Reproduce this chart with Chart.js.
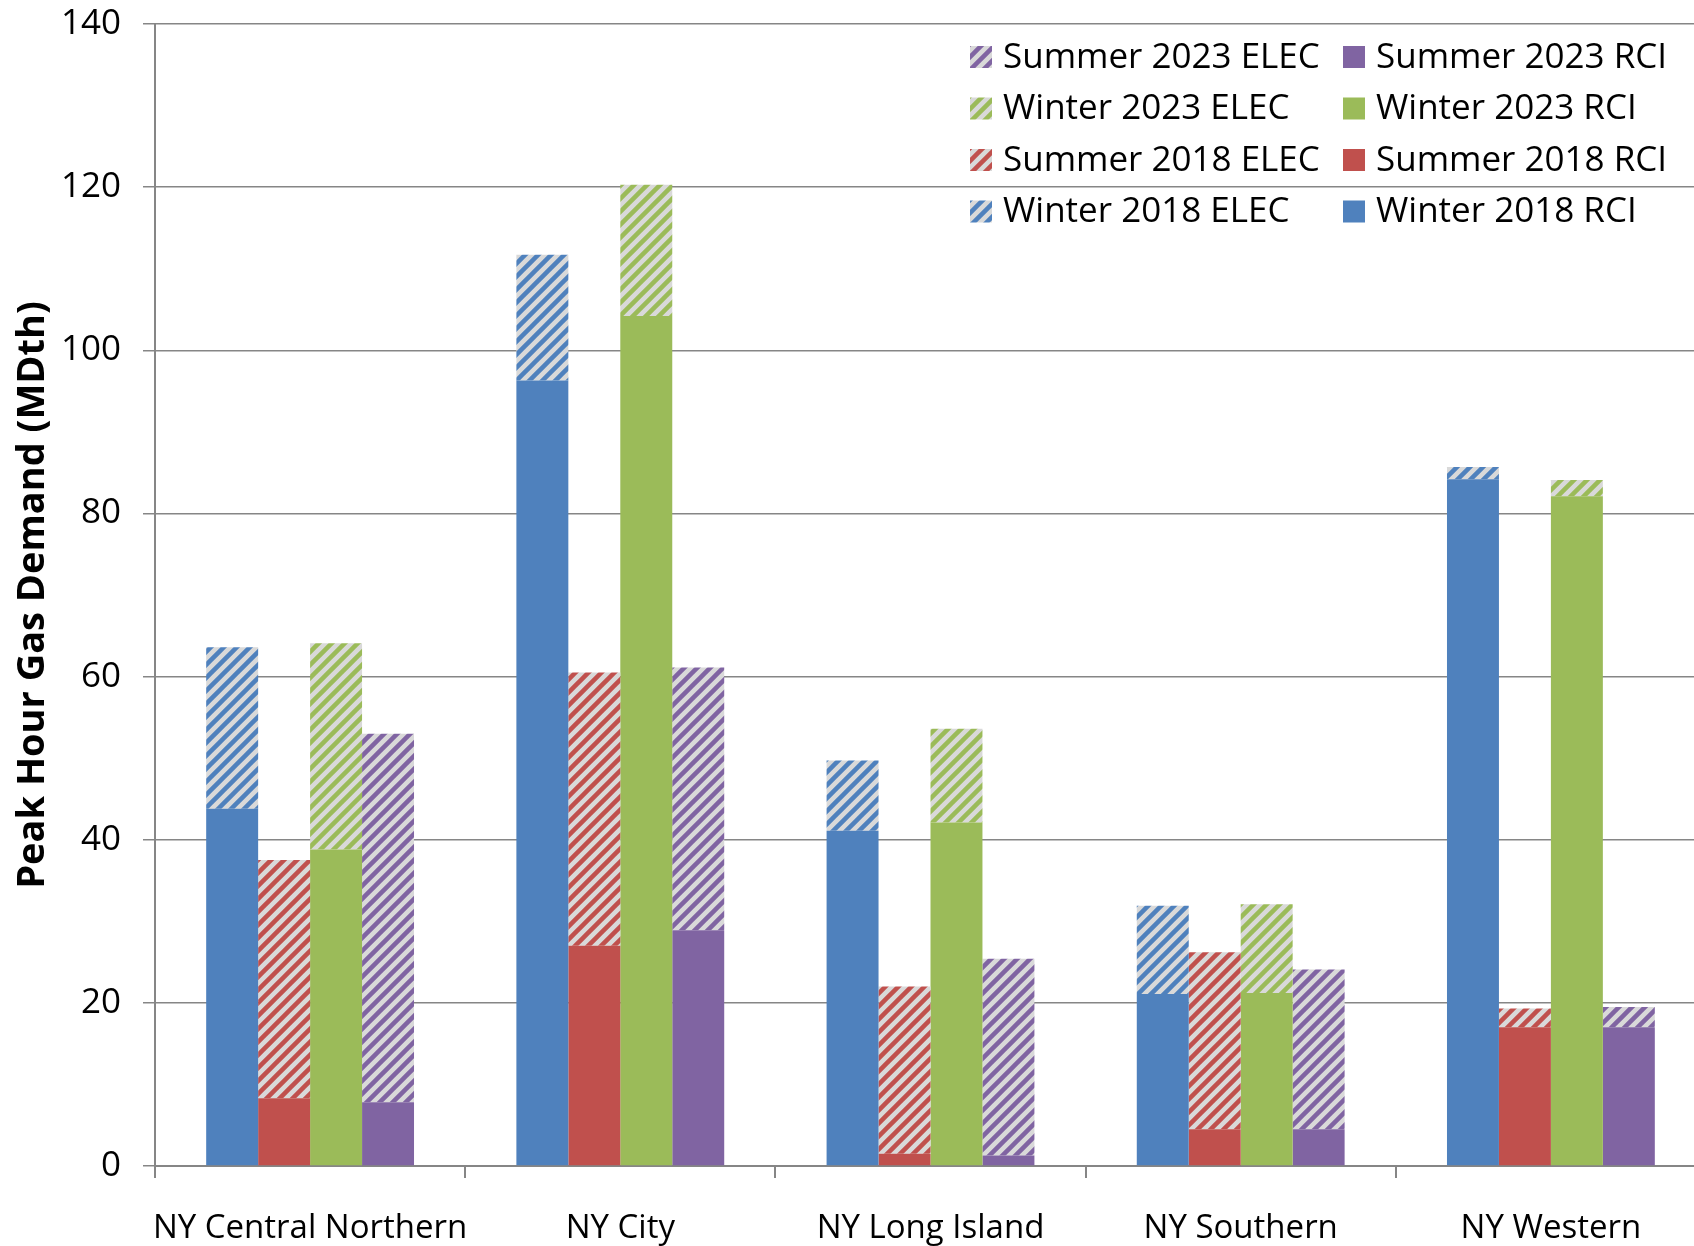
<!DOCTYPE html>
<html>
<head>
<meta charset="utf-8">
<title>Peak Hour Gas Demand</title>
<script src="https://cdn.jsdelivr.net/npm/chart.js@4/dist/chart.umd.min.js"></script>
<style>
  html, body { margin: 0; padding: 0; background: #fff; overflow: hidden; }
  /* plot runs slightly past the right edge of the window */
  #wrap { position: relative; width: 1706px; height: 1246px; }
</style>
</head>
<body>
<div id="wrap"><canvas id="chart"></canvas></div>
<script>
// Regions on the category axis
const categories = ['NY Central Northern', 'NY City', 'NY Long Island', 'NY Southern', 'NY Western'];

// Peak hour gas demand (MDth), RCI = res/com/ind load, ELEC = power generation
const winter2018Rci  = [43.8, 96.3, 41.1, 21.1, 84.2];
const winter2018Elec = [19.8, 15.4,  8.6, 10.8,  1.5];
const summer2018Rci  = [ 8.3, 27.0,  1.5,  4.5, 17.0];
const summer2018Elec = [29.2, 33.5, 20.5, 21.7,  2.3];
const winter2023Rci  = [38.8, 104.2, 42.1, 21.2, 82.1];
const winter2023Elec = [25.3, 16.1, 11.5, 10.9,  2.0];
const summer2023Rci  = [ 7.8, 28.9,  1.3,  4.5, 17.0];
const summer2023Elec = [45.2, 32.2, 24.1, 19.6,  2.5];

const yTicks = [0, 20, 40, 60, 80, 100, 120, 140];

const COLORS = {
  blue:   '#4f81bd',
  red:    '#c0504d',
  green:  '#9bbb59',
  purple: '#8064a2',
  grid:   '#868686',
};
const FONT = "'Open Sans', 'Noto Sans', sans-serif";

// diagonal stripes on light grey, used for the ELEC part of each stack
function makeHatch(color) {
  const size = 13;
  const c = document.createElement('canvas');
  c.width = c.height = size;
  const g = c.getContext('2d');
  g.fillStyle = '#d9d9d9';
  g.fillRect(0, 0, size, size);
  g.strokeStyle = color;
  g.lineWidth = 4.5;
  g.beginPath();
  g.moveTo(-size / 2, size / 2); g.lineTo(size / 2, -size / 2);
  g.moveTo(0, size);             g.lineTo(size, 0);
  g.moveTo(size / 2, size * 1.5); g.lineTo(size * 1.5, size / 2);
  g.stroke();
  return document.getElementById('chart').getContext('2d').createPattern(c, 'repeat');
}

const series = [
  { label: 'Winter 2018', stack: 'w18', color: COLORS.blue,   rci: winter2018Rci, elec: winter2018Elec },
  { label: 'Summer 2018', stack: 's18', color: COLORS.red,    rci: summer2018Rci, elec: summer2018Elec },
  { label: 'Winter 2023', stack: 'w23', color: COLORS.green,  rci: winter2023Rci, elec: winter2023Elec },
  { label: 'Summer 2023', stack: 's23', color: COLORS.purple, rci: summer2023Rci, elec: summer2023Elec },
];

const datasets = [];
series.forEach(s => {
  datasets.push({
    label: s.label + ' RCI', stack: s.stack, data: s.rci,
    backgroundColor: s.color, borderWidth: 0,
  });
  datasets.push({
    label: s.label + ' ELEC', stack: s.stack, data: s.elec,
    backgroundColor: makeHatch(s.color), borderWidth: 0,
  });
});

// two-column legend in the top right corner, newest season first
const gridLegend = {
  id: 'gridLegend',
  afterDraw(chart) {
    const ctx = chart.ctx;
    const rows = datasets.length / 2;
    ctx.save();
    ctx.font = '35px ' + FONT;
    ctx.textBaseline = 'middle';
    for (let r = 0; r < rows; r++) {
      const rci = datasets[datasets.length - 2 - r * 2];
      const elec = datasets[datasets.length - 1 - r * 2];
      const y = 57 + r * 51.5;
      [[elec, 970], [rci, 1343]].forEach(([ds, x]) => {
        ctx.fillStyle = ds.backgroundColor;
        ctx.fillRect(x, y - 11, 22, 22);
        ctx.fillStyle = '#000';
        ctx.fillText(ds.label, x + 33, y + 1);
      });
    }
    ctx.restore();
  }
};

new Chart(document.getElementById('chart'), {
  type: 'bar',
  data: { labels: categories, datasets },
  plugins: [gridLegend],
  options: {
    responsive: true,
    maintainAspectRatio: false,
    animation: false,
    datasets: { bar: { categoryPercentage: 0.67, barPercentage: 1.0 } },
    layout: { padding: 0 },
    plugins: {
      legend: { display: false },
      tooltip: { enabled: false },
    },
    scales: {
      x: {
        stacked: true,
        offset: true,
        grid: {
          offset: true,
          drawOnChartArea: false,
          drawTicks: true,
          tickLength: 12,
          color: COLORS.grid,
          lineWidth: 2,
        },
        border: { color: COLORS.grid, width: 2 },
        ticks: {
          color: '#000',
          padding: 31,
          autoSkip: false,
          maxRotation: 0,
          minRotation: 0,
          font: { family: FONT, size: 33 },
        },
        afterFit(scale) {
          scale.height = 80;
          scale.paddingLeft = 0;
          scale.paddingRight = 0;
        },
      },
      y: {
        stacked: true,
        min: 0,
        max: 140,
        afterBuildTicks(scale) { scale.ticks = yTicks.map(v => ({ value: v })); },
        grid: {
          color: COLORS.grid,
          lineWidth: 1.5,
          drawTicks: true,
          tickLength: 12,
        },
        border: { color: COLORS.grid, width: 2 },
        ticks: { color: '#000', padding: 22, font: { family: FONT, size: 35 } },
        title: {
          display: true,
          text: 'Peak Hour Gas Demand (MDth)',
          color: '#000',
          font: { family: FONT, size: 38, weight: 'bold' },
          padding: { top: 10, bottom: 0 },
        },
        afterFit(scale) {
          scale.width = 155;
          scale.paddingTop = 24;
          scale.paddingBottom = 0;
        },
      },
    },
  },
});
</script>
</body>
</html>
